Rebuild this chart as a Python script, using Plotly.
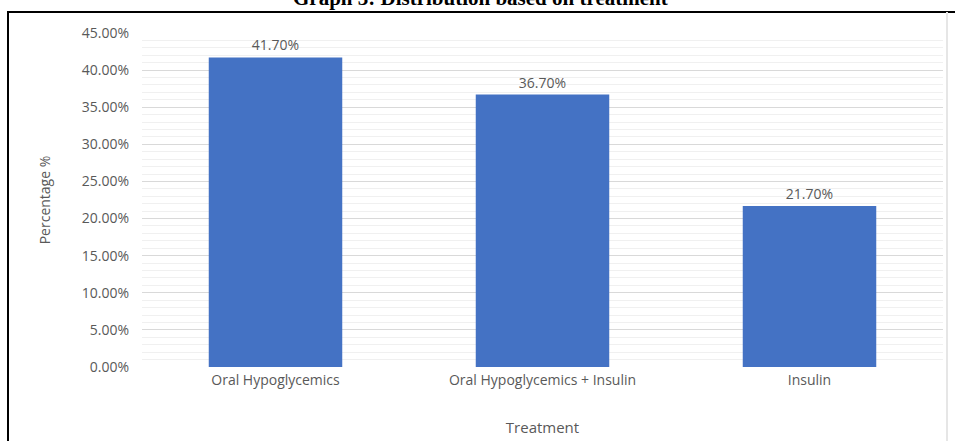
import plotly.graph_objects as go

# Treatment groups and their share of patients (%)
treatments = ["Oral Hypoglycemics", "Oral Hypoglycemics + Insulin", "Insulin"]
percentages = [41.70, 36.70, 21.70]
y_ticks = [0, 5, 10, 15, 20, 25, 30, 35, 40, 45]

W, H = 955, 441
ML, MR, MT, MB = 142, 12, 33, 74
PW, PH = W - ML - MR, H - MT - MB


def px_x(px):
    return (px - ML) / PW


def px_y(py):
    return (H - MB - py) / PH


text_grey = "#595959"
font_family = "Open Sans, Noto Sans, sans-serif"

fig = go.Figure(
    go.Bar(
        x=treatments,
        y=percentages,
        marker=dict(color="#4472C4", line=dict(width=0)),
        texttemplate="%{y:.2f}%",
        textposition="outside",
        textfont=dict(size=14, color=text_grey, family=font_family),
        cliponaxis=False,
    )
)

fig.update_layout(
    width=W,
    height=H,
    margin=dict(l=ML, r=MR, t=MT, b=MB, autoexpand=False),
    paper_bgcolor="white",
    plot_bgcolor="white",
    bargap=0.5,
    showlegend=False,
    font=dict(family=font_family, size=14, color=text_grey),
)

fig.update_yaxes(
    range=[0, 45],
    tickvals=y_ticks,
    ticktext=[f"{v:.2f}%" for v in y_ticks],
    showgrid=True,
    gridcolor="#d9d9d9",
    gridwidth=1,
    minor=dict(dtick=1, showgrid=True, gridcolor="#f0f0f0", gridwidth=1),
    zeroline=False,
    showline=False,
    ticks="",
    automargin=False,
    ticklabelstandoff=12,
    tickfont=dict(size=14, color=text_grey),
    title=dict(text="Percentage %", font=dict(size=14, color=text_grey), standoff=27),
)

fig.update_xaxes(
    showgrid=False,
    showline=False,
    ticks="",
    automargin=False,
    ticklabelstandoff=3,
    tickfont=dict(size=14, color=text_grey),
    title=dict(text="Treatment", font=dict(size=15, color=text_grey), standoff=34),
)

# Chart heading, partly above the page edge
fig.add_annotation(
    text="<b>Graph 3: Distribution based on treatment</b>",
    xref="paper", yref="paper",
    x=px_x(480), y=px_y(-2),
    xanchor="center", yanchor="middle",
    showarrow=False,
    font=dict(family="Liberation Serif, Times New Roman, serif", size=21, color="black"),
)

# Frame around the chart: dark left and top edges, faint right edge
fig.add_shape(
    type="line", xref="paper", yref="paper",
    x0=px_x(8), x1=px_x(8), y0=px_y(445), y1=px_y(12),
    line=dict(color="black", width=2), layer="above",
)
fig.add_shape(
    type="line", xref="paper", yref="paper",
    x0=px_x(7), x1=px_x(956), y0=px_y(12), y1=px_y(12),
    line=dict(color="black", width=2), layer="above",
)
fig.add_shape(
    type="line", xref="paper", yref="paper",
    x0=px_x(947), x1=px_x(947), y0=px_y(445), y1=px_y(12),
    line=dict(color="#e6e6e6", width=2), layer="above",
)

fig.write_html("out.html")
